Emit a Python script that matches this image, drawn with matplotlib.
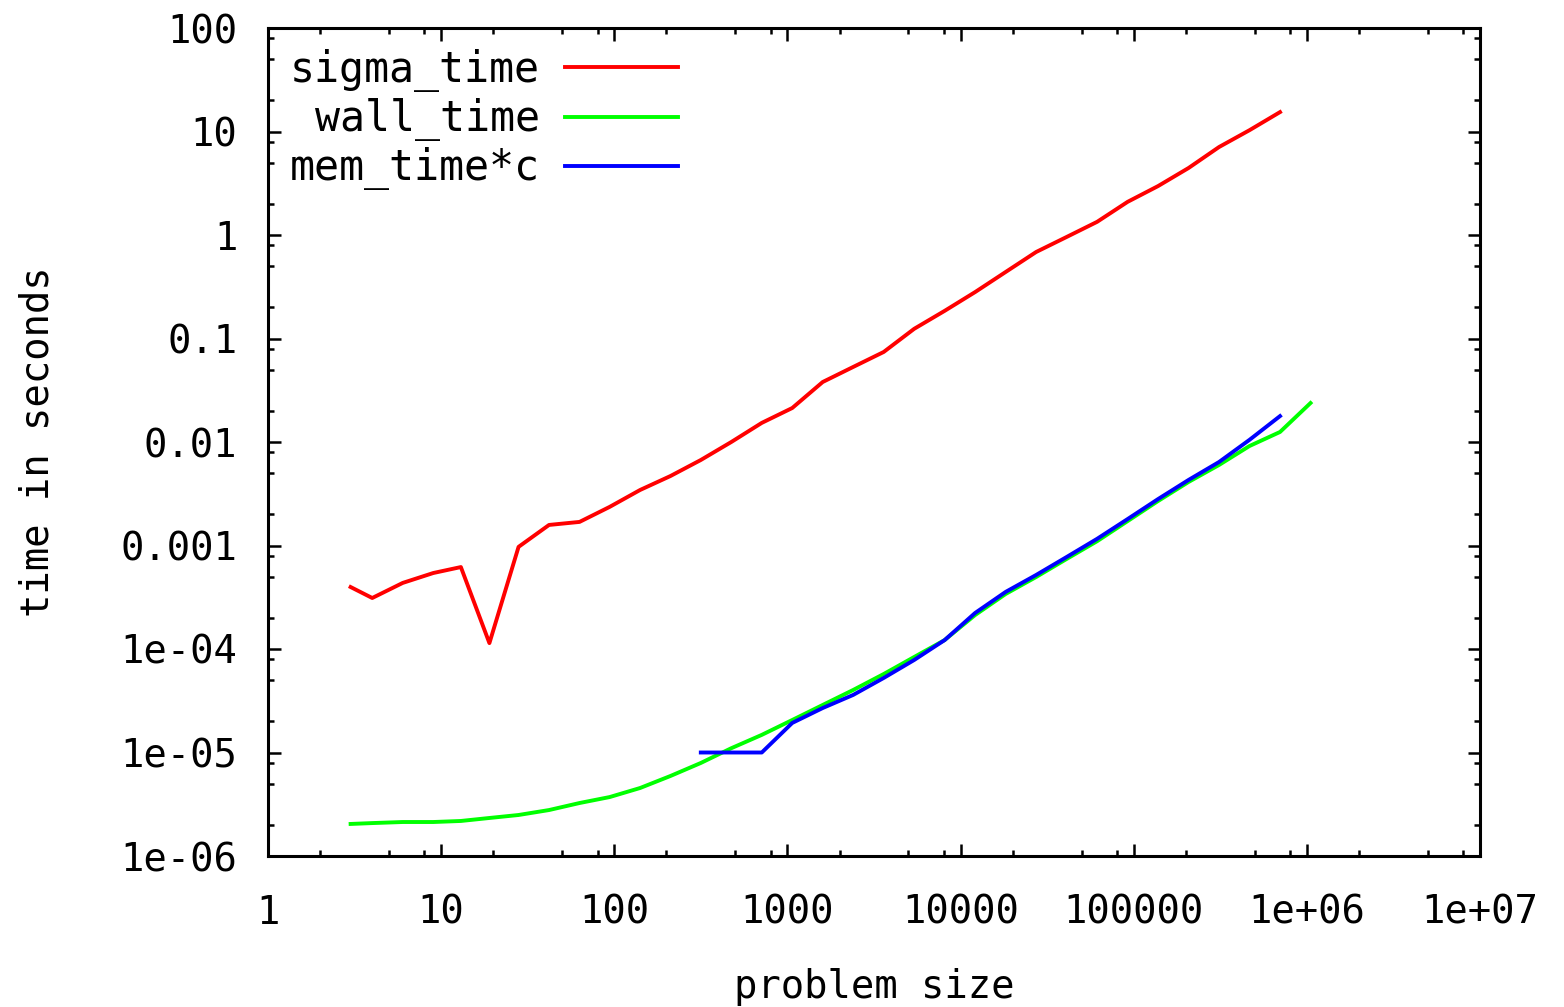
import matplotlib
matplotlib.use("Agg")
import matplotlib.pyplot as plt
from matplotlib.ticker import FixedLocator, NullFormatter

# problem sizes (x) and timings
sigma_x = [3, 4, 6, 9, 13, 19, 28, 42, 63, 94, 141, 211, 316, 474, 711, 1066,
           1599, 2398, 3597, 5395, 8092, 12138, 18207, 27310, 40965, 61447,
           92170, 138255, 207382, 311073, 466609, 699913]
sigma_time = [3.97e-4, 3.11e-4, 4.35e-4, 5.42e-4, 6.19e-4, 1.14e-4, 9.7e-4, 1.58e-3,
              1.69e-3, 2.36e-3, 3.44e-3, 4.69e-3, 6.70e-3, 1.0e-2, 1.53e-2, 2.13e-2,
              3.80e-2, 5.31e-2, 7.41e-2, 0.124, 0.185, 0.281, 0.439, 0.685,
              0.957, 1.34, 2.09, 2.97, 4.44, 7.08, 10.3, 15.4]

wall_x = sigma_x + [1049869]
wall_time = [2.04e-6, 2.08e-6, 2.13e-6, 2.13e-6, 2.18e-6, 2.33e-6, 2.49e-6, 2.78e-6,
             3.25e-6, 3.71e-6, 4.54e-6, 5.93e-6, 7.92e-6, 1.10e-5, 1.48e-5, 2.06e-5,
             2.88e-5, 4.02e-5, 5.73e-5, 8.37e-5, 1.22e-4, 2.13e-4, 3.40e-4, 4.96e-4,
             7.41e-4, 1.10e-3, 1.72e-3, 2.69e-3, 4.11e-3, 6.00e-3, 9.15e-3, 1.25e-2,
             2.38e-2]

mem_x = [316, 474, 711, 1066, 1599, 2398, 3597, 5395, 8092, 12138, 18207, 27310,
         40965, 61447, 92170, 138255, 207382, 311073, 466609, 699913]
mem_time = [1.0e-5, 1.0e-5, 1.0e-5, 1.93e-5, 2.69e-5, 3.60e-5, 5.25e-5, 7.83e-5,
            1.22e-4, 2.23e-4, 3.56e-4, 5.19e-4, 7.74e-4, 1.16e-3, 1.80e-3, 2.81e-3,
            4.30e-3, 6.41e-3, 1.05e-2, 1.78e-2]

xticks = [1, 10, 100, 1000, 1e4, 1e5, 1e6, 1e7]
xtick_labels = ['1', '10', '100', '1000', '10000', '100000', '1e+06', '1e+07']
yticks = [1e-6, 1e-5, 1e-4, 1e-3, 1e-2, 0.1, 1, 10, 100]
ytick_labels = ['1e-06', '1e-05', '1e-04', '0.001', '0.01', '0.1', '1', '10', '100']

plt.rcParams['font.family'] = ['DejaVu Sans Mono']
fs = 28

fig = plt.figure(figsize=(15.64, 10.07), dpi=100)
ax = fig.add_axes([268 / 1564, 1 - 856 / 1007, (1480 - 268) / 1564, (856 - 28) / 1007])

ax.plot(sigma_x, sigma_time, color='#ff0000', linewidth=2.8, label='sigma_time')
ax.plot(wall_x, wall_time, color='#00ff00', linewidth=2.8, label='wall_time')
ax.plot(mem_x, mem_time, color='#0000ff', linewidth=2.8, label='mem_time*c')

ax.set_xscale('log')
ax.set_yscale('log')
ax.set_xlim(1, 1e7)
ax.set_ylim(1e-6, 100)

ax.set_xticks(xticks, xtick_labels)
ax.set_yticks(yticks, ytick_labels)
minor_x = [d * m for d in xticks[:-1] for m in (2, 5, 8)]
minor_y = [d * m for d in yticks[:-1] for m in (2, 5, 8)]
ax.xaxis.set_minor_locator(FixedLocator(minor_x))
ax.yaxis.set_minor_locator(FixedLocator(minor_y))
ax.xaxis.set_minor_formatter(NullFormatter())
ax.yaxis.set_minor_formatter(NullFormatter())

ax.tick_params(which='both', direction='in', top=True, right=True, width=1.8, labelsize=fs)
ax.tick_params(which='major', length=9)
ax.tick_params(which='minor', length=4.5)
ax.tick_params(axis='x', pad=27)
ax.tick_params(axis='y', pad=22)
for s in ax.spines.values():
    s.set_linewidth(2.2)

ax.set_xlabel('problem size', fontsize=fs, labelpad=26)
ax.set_ylabel('time in seconds', fontsize=fs, labelpad=46)

ax.legend(loc='upper left', bbox_to_anchor=(290 / 1564, 1 - 49 / 1007),
          bbox_transform=fig.transFigure, frameon=False, markerfirst=False,
          prop={'size': 30}, handlelength=2.7, handletextpad=0.6, labelspacing=0.15,
          borderpad=0, borderaxespad=0)

fig.savefig('out.png', dpi=100)
